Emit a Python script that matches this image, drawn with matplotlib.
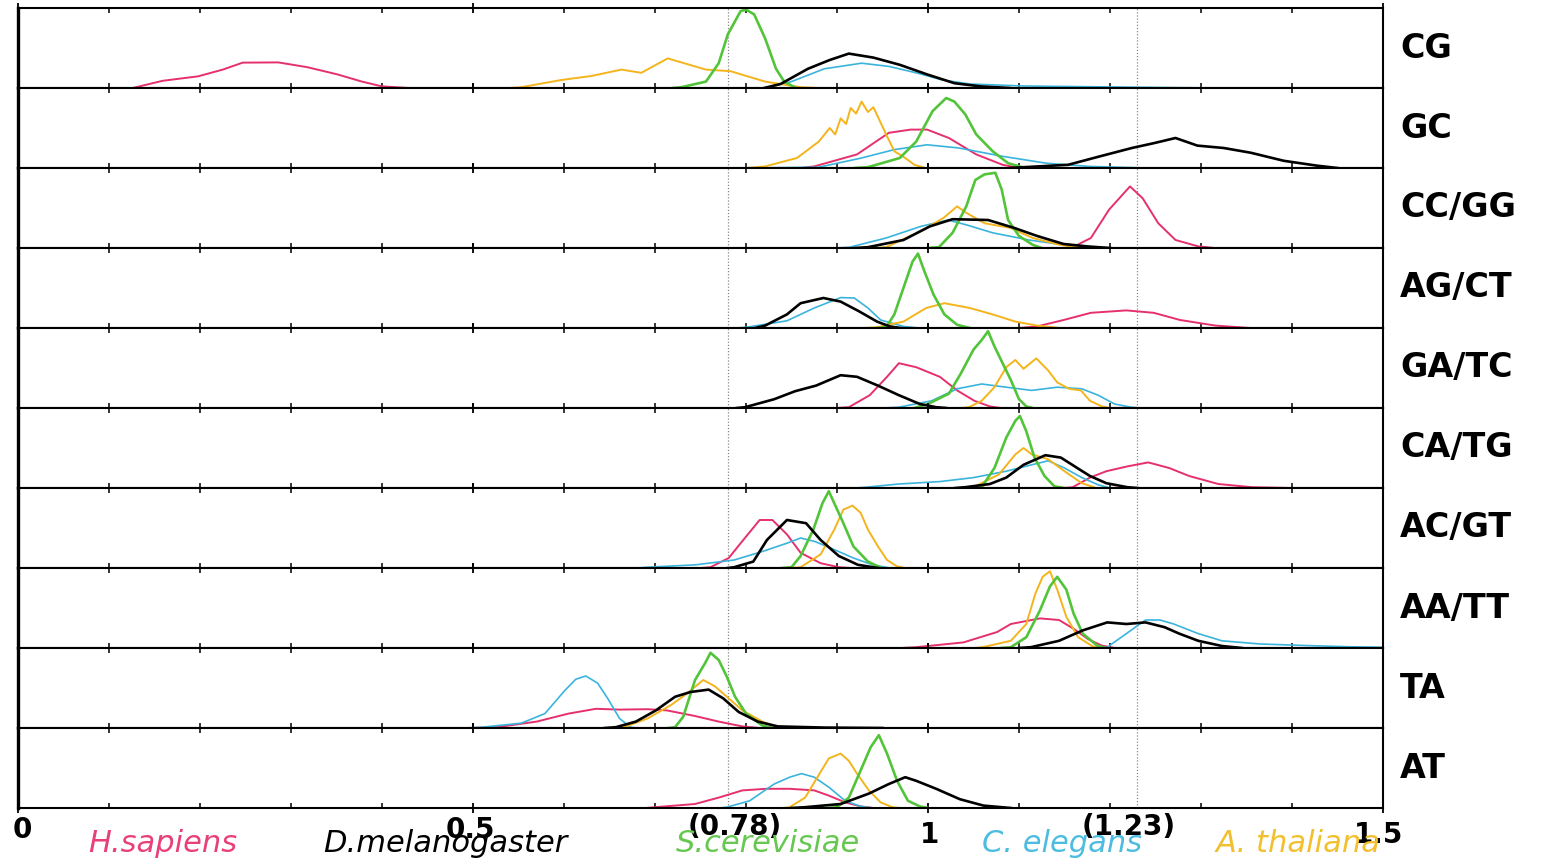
import matplotlib
matplotlib.use("Agg")
import matplotlib.pyplot as plt
from matplotlib.ticker import MultipleLocator
from matplotlib.transforms import blended_transform_factory

# species (legend order) and colours
keys = ["hs", "dm", "sc", "ce", "at"]
names = ["H.sapiens", "D.melanogaster", "S.cerevisiae", "C. elegans", "A. thaliana"]
colors = {"hs": "#e6306e", "dm": "#000000", "sc": "#52c43a", "ce": "#3ab4dc", "at": "#f4b41c"}
legend_colors = {"hs": "#e8407a", "dm": "#000000", "sc": "#66c850", "ce": "#4cbde0", "at": "#f2c02e"}

pairs = ["CG", "GC", "CC/GG", "AG/CT", "GA/TC", "CA/TG", "AC/GT", "AA/TT", "TA", "AT"]
marks = [0.78, 1.23]
tick_text = ["0", "0.5", "(0.78)", "1", "(1.23)", "1.5"]
tick_pos = [0.0, 0.5, 0.78, 1.0, 1.23, 1.5]

# curves: (ratio, relative height in panel)
p_cg = {
    "hs": [(0.11, 0), (0.126, 0.0), (0.159, 0.09), (0.198, 0.146), (0.225, 0.23), (0.247, 0.317),
           (0.286, 0.32), (0.318, 0.26), (0.351, 0.17), (0.378, 0.08), (0.40, 0.02), (0.43, 0)],
    "dm": [(0.82, 0), (0.838, 0.05), (0.868, 0.24), (0.892, 0.35), (0.913, 0.43), (0.94, 0.38),
           (0.969, 0.29), (0.999, 0.17), (1.029, 0.06), (1.058, 0.02), (1.09, 0)],
    "sc": [(0.72, 0), (0.729, 0.01), (0.756, 0.08), (0.77, 0.31), (0.78, 0.67), (0.794, 0.96),
           (0.80, 0.98), (0.809, 0.92), (0.821, 0.62), (0.833, 0.24), (0.842, 0.08), (0.855, 0)],
    "ce": [(0.82, 0), (0.85, 0.08), (0.886, 0.24), (0.927, 0.31), (0.957, 0.27), (0.987, 0.19),
           (1.016, 0.10), (1.046, 0.05), (1.105, 0.025), (1.224, 0.01), (1.32, 0)],
    "at": [(0.54, 0), (0.553, 0.01), (0.597, 0.10), (0.63, 0.15), (0.663, 0.23), (0.685, 0.19),
           (0.714, 0.37), (0.756, 0.23), (0.783, 0.21), (0.821, 0.08), (0.86, 0.01), (0.88, 0)],
}
p_gc = {
    "hs": [(0.86, 0), (0.875, 0.02), (0.922, 0.17), (0.957, 0.44), (0.981, 0.48), (0.999, 0.48),
           (1.023, 0.375), (1.053, 0.17), (1.082, 0.04), (1.10, 0)],
    "dm": [(1.09, 0), (1.105, 0.01), (1.154, 0.04), (1.189, 0.146), (1.224, 0.25), (1.248, 0.31),
           (1.272, 0.375), (1.296, 0.28), (1.325, 0.25), (1.355, 0.19), (1.391, 0.09), (1.427, 0.03), (1.45, 0)],
    "sc": [(0.92, 0), (0.934, 0.01), (0.969, 0.125), (0.987, 0.33), (1.005, 0.71), (1.02, 0.875),
           (1.029, 0.83), (1.041, 0.67), (1.053, 0.42), (1.071, 0.21), (1.088, 0.06), (1.107, 0)],
    "ce": [(0.80, 0), (0.88, 0.01), (0.927, 0.125), (0.963, 0.23), (0.999, 0.29), (1.034, 0.25),
           (1.082, 0.146), (1.13, 0.06), (1.177, 0.02), (1.24, 0)],
    "at": [(0.80, 0), (0.821, 0.02), (0.856, 0.125), (0.88, 0.33), (0.892, 0.5), (0.898, 0.42),
           (0.904, 0.62), (0.91, 0.55), (0.915, 0.75), (0.921, 0.68), (0.927, 0.83), (0.934, 0.70),
           (0.94, 0.76), (0.954, 0.42), (0.963, 0.21), (0.975, 0.125), (0.985, 0.04), (0.997, 0)],
}
p_ccgg = {
    "hs": [(1.15, 0), (1.159, 0.01), (1.179, 0.125), (1.199, 0.48), (1.222, 0.77), (1.236, 0.62),
           (1.253, 0.31), (1.272, 0.10), (1.297, 0.02), (1.315, 0)],
    "dm": [(0.92, 0), (0.934, 0.01), (0.973, 0.10), (1.002, 0.27), (1.027, 0.36), (1.066, 0.35),
           (1.095, 0.25), (1.12, 0.15), (1.149, 0.05), (1.175, 0.02), (1.2, 0)],
    "sc": [(1.0, 0), (1.012, 0.01), (1.027, 0.19), (1.042, 0.52), (1.052, 0.85), (1.062, 0.92),
           (1.074, 0.94), (1.081, 0.73), (1.088, 0.35), (1.10, 0.15), (1.115, 0.04), (1.125, 0)],
    "ce": [(0.90, 0), (0.914, 0.01), (0.954, 0.125), (0.992, 0.27), (1.022, 0.35), (1.042, 0.29),
           (1.071, 0.19), (1.111, 0.10), (1.155, 0.03), (1.2, 0)],
    "at": [(0.94, 0), (0.954, 0.01), (0.992, 0.21), (1.017, 0.375), (1.032, 0.52), (1.042, 0.44),
           (1.062, 0.31), (1.091, 0.25), (1.115, 0.125), (1.145, 0.04), (1.17, 0)],
}
p_agct = {
    "hs": [(1.10, 0), (1.12, 0.02), (1.149, 0.10), (1.179, 0.19), (1.218, 0.22), (1.248, 0.19),
           (1.277, 0.10), (1.316, 0.03), (1.354, 0)],
    "dm": [(0.81, 0), (0.821, 0.03), (0.845, 0.17), (0.86, 0.31), (0.885, 0.375), (0.904, 0.33),
           (0.924, 0.21), (0.944, 0.08), (0.958, 0.02), (0.97, 0)],
    "sc": [(0.945, 0), (0.954, 0.01), (0.963, 0.17), (0.973, 0.5), (0.983, 0.83), (0.989, 0.93),
           (0.996, 0.71), (1.006, 0.42), (1.018, 0.17), (1.032, 0.04), (1.046, 0)],
    "ce": [(0.79, 0), (0.801, 0.01), (0.845, 0.09), (0.875, 0.25), (0.904, 0.38), (0.919, 0.375),
           (0.934, 0.25), (0.948, 0.10), (0.973, 0.02), (0.99, 0)],
    "at": [(0.93, 0), (0.944, 0.01), (0.973, 0.08), (0.998, 0.25), (1.018, 0.31), (1.046, 0.25),
           (1.071, 0.17), (1.096, 0.08), (1.12, 0.03), (1.145, 0)],
}
p_gatc = {
    "hs": [(0.90, 0), (0.913, 0.01), (0.936, 0.16), (0.955, 0.39), (0.968, 0.56), (0.987, 0.51),
           (1.013, 0.39), (1.032, 0.22), (1.051, 0.09), (1.068, 0.02), (1.08, 0)],
    "dm": [(0.79, 0), (0.799, 0.01), (0.831, 0.11), (0.854, 0.21), (0.877, 0.28), (0.904, 0.41),
           (0.922, 0.39), (0.945, 0.28), (0.968, 0.16), (0.991, 0.05), (1.009, 0.01), (1.02, 0)],
    "sc": [(0.985, 0), (1.0, 0.05), (1.023, 0.18), (1.036, 0.43), (1.05, 0.73), (1.059, 0.85),
           (1.066, 0.96), (1.073, 0.77), (1.082, 0.56), (1.091, 0.35), (1.10, 0.11), (1.108, 0.02), (1.115, 0)],
    "ce": [(0.95, 0), (0.968, 0.01), (1.004, 0.09), (1.032, 0.24), (1.059, 0.30), (1.086, 0.26),
           (1.114, 0.22), (1.142, 0.26), (1.169, 0.24), (1.187, 0.16), (1.205, 0.05), (1.223, 0.01), (1.235, 0)],
    "at": [(1.035, 0), (1.045, 0.01), (1.059, 0.09), (1.073, 0.26), (1.086, 0.51), (1.096, 0.60),
           (1.105, 0.49), (1.119, 0.62), (1.132, 0.47), (1.142, 0.32), (1.155, 0.24), (1.168, 0.22),
           (1.178, 0.09), (1.191, 0.02), (1.2, 0)],
}
p_catg = {
    "hs": [(1.15, 0), (1.159, 0.01), (1.178, 0.13), (1.196, 0.21), (1.219, 0.27), (1.242, 0.32),
           (1.265, 0.25), (1.287, 0.15), (1.319, 0.05), (1.356, 0.01), (1.40, 0)],
    "dm": [(1.03, 0), (1.041, 0.01), (1.068, 0.05), (1.086, 0.13), (1.105, 0.29), (1.129, 0.41),
           (1.146, 0.38), (1.164, 0.25), (1.178, 0.15), (1.196, 0.06), (1.219, 0.01), (1.23, 0)],
    "sc": [(1.05, 0), (1.059, 0.01), (1.073, 0.25), (1.086, 0.63), (1.096, 0.84), (1.101, 0.9),
           (1.108, 0.71), (1.117, 0.38), (1.128, 0.15), (1.139, 0.02), (1.15, 0)],
    "ce": [(0.92, 0), (0.932, 0.01), (0.968, 0.05), (1.013, 0.08), (1.05, 0.13), (1.086, 0.21),
           (1.114, 0.29), (1.132, 0.34), (1.15, 0.25), (1.169, 0.13), (1.187, 0.04), (1.20, 0)],
    "at": [(1.04, 0), (1.05, 0.01), (1.078, 0.17), (1.096, 0.42), (1.105, 0.5), (1.114, 0.42),
           (1.132, 0.36), (1.15, 0.21), (1.169, 0.06), (1.185, 0)],
}
p_acgt = {
    "hs": [(0.75, 0), (0.761, 0.01), (0.781, 0.125), (0.797, 0.35), (0.815, 0.6), (0.829, 0.6),
           (0.845, 0.42), (0.86, 0.19), (0.882, 0.06), (0.902, 0.01), (0.915, 0)],
    "dm": [(0.78, 0), (0.787, 0.01), (0.808, 0.08), (0.823, 0.35), (0.845, 0.6), (0.866, 0.56),
           (0.882, 0.35), (0.902, 0.15), (0.923, 0.04), (0.945, 0)],
    "sc": [(0.84, 0), (0.85, 0.01), (0.86, 0.15), (0.874, 0.48), (0.884, 0.81), (0.891, 0.96),
           (0.897, 0.81), (0.907, 0.56), (0.918, 0.27), (0.934, 0.08), (0.949, 0)],
    "ce": [(0.68, 0), (0.692, 0.01), (0.745, 0.04), (0.787, 0.10), (0.819, 0.21), (0.845, 0.31),
           (0.86, 0.375), (0.876, 0.33), (0.897, 0.23), (0.918, 0.125), (0.939, 0.04), (0.958, 0)],
    "at": [(0.85, 0), (0.86, 0.01), (0.882, 0.17), (0.897, 0.48), (0.907, 0.73), (0.917, 0.78),
           (0.926, 0.69), (0.934, 0.48), (0.945, 0.27), (0.955, 0.10), (0.966, 0.02), (0.975, 0)],
}
p_aatt = {
    "hs": [(0.97, 0), (0.987, 0.01), (1.039, 0.07), (1.076, 0.2), (1.091, 0.3), (1.123, 0.37),
           (1.144, 0.35), (1.16, 0.24), (1.176, 0.11), (1.191, 0.03), (1.205, 0)],
    "dm": [(1.10, 0), (1.113, 0.01), (1.144, 0.09), (1.17, 0.22), (1.197, 0.32), (1.218, 0.30),
           (1.239, 0.32), (1.26, 0.26), (1.276, 0.18), (1.297, 0.09), (1.323, 0.025), (1.345, 0)],
    "sc": [(1.08, 0), (1.091, 0.01), (1.108, 0.135), (1.123, 0.47), (1.134, 0.77), (1.142, 0.89),
           (1.152, 0.73), (1.16, 0.43), (1.17, 0.18), (1.186, 0.03), (1.195, 0)],
    "ce": [(1.185, 0), (1.197, 0.01), (1.218, 0.18), (1.239, 0.35), (1.255, 0.35), (1.27, 0.30),
           (1.297, 0.18), (1.323, 0.09), (1.365, 0.05), (1.418, 0.03), (1.464, 0.015), (1.5, 0.01)],
    "at": [(1.05, 0), (1.06, 0.01), (1.091, 0.09), (1.108, 0.3), (1.118, 0.68), (1.126, 0.89),
           (1.134, 0.96), (1.142, 0.73), (1.152, 0.39), (1.165, 0.135), (1.181, 0.02), (1.19, 0)],
}
p_ta = {
    "hs": [(0.50, 0), (0.526, 0.01), (0.57, 0.08), (0.605, 0.18), (0.635, 0.24), (0.661, 0.23),
           (0.692, 0.235), (0.713, 0.22), (0.744, 0.15), (0.77, 0.08), (0.796, 0.02), (0.815, 0)],
    "dm": [(0.645, 0), (0.657, 0.01), (0.679, 0.08), (0.701, 0.22), (0.722, 0.39), (0.739, 0.45),
           (0.759, 0.48), (0.775, 0.37), (0.792, 0.2), (0.813, 0.08), (0.835, 0.02), (0.887, 0.005), (0.95, 0)],
    "sc": [(0.715, 0), (0.722, 0.01), (0.731, 0.14), (0.744, 0.6), (0.755, 0.81), (0.761, 0.94),
           (0.77, 0.85), (0.779, 0.64), (0.788, 0.39), (0.80, 0.18), (0.818, 0.03), (0.83, 0)],
    "ce": [(0.49, 0), (0.51, 0.01), (0.553, 0.06), (0.579, 0.18), (0.601, 0.47), (0.613, 0.61),
           (0.624, 0.65), (0.637, 0.56), (0.648, 0.37), (0.661, 0.12), (0.673, 0.01), (0.68, 0)],
    "at": [(0.655, 0), (0.666, 0.01), (0.692, 0.12), (0.718, 0.29), (0.735, 0.43), (0.753, 0.6),
           (0.766, 0.52), (0.779, 0.39), (0.796, 0.22), (0.818, 0.08), (0.831, 0.02), (0.845, 0)],
}
p_at = {
    "hs": [(0.69, 0), (0.70, 0.01), (0.744, 0.05), (0.77, 0.13), (0.796, 0.22), (0.822, 0.24),
           (0.848, 0.24), (0.875, 0.22), (0.891, 0.155), (0.909, 0.07), (0.926, 0.02), (0.94, 0)],
    "dm": [(0.85, 0), (0.865, 0.01), (0.904, 0.05), (0.935, 0.18), (0.957, 0.3), (0.975, 0.385),
           (0.987, 0.34), (1.009, 0.24), (1.035, 0.11), (1.061, 0.03), (1.091, 0)],
    "sc": [(0.89, 0), (0.90, 0.01), (0.913, 0.13), (0.926, 0.47), (0.937, 0.76), (0.946, 0.91),
           (0.955, 0.68), (0.966, 0.34), (0.978, 0.09), (0.991, 0.02), (1.0, 0)],
    "ce": [(0.77, 0), (0.779, 0.01), (0.804, 0.09), (0.831, 0.3), (0.848, 0.385), (0.861, 0.43),
           (0.875, 0.385), (0.891, 0.26), (0.909, 0.09), (0.926, 0.02), (0.94, 0)],
    "at": [(0.84, 0), (0.848, 0.01), (0.865, 0.13), (0.883, 0.47), (0.891, 0.62), (0.904, 0.68),
           (0.913, 0.59), (0.922, 0.43), (0.935, 0.22), (0.948, 0.07), (0.961, 0.01), (0.97, 0)],
}
panels = [p_cg, p_gc, p_ccgg, p_agct, p_gatc, p_catg, p_acgt, p_aatt, p_ta, p_at]

# drawing order and line widths
draw_order = ["hs", "ce", "at", "sc", "dm"]
widths = {"hs": 1.4, "dm": 1.9, "sc": 1.9, "ce": 1.2, "at": 1.4}

W, H = 1548, 867
fig = plt.figure(figsize=(W / 100, H / 100), dpi=100)
axes = fig.subplots(len(pairs), 1, sharex=True, gridspec_kw=dict(hspace=0))
fig.subplots_adjust(left=18 / W, right=1383 / W, top=1 - 8 / H, bottom=1 - 808 / H)

for ax, label, panel in zip(axes, pairs, panels):
    for k in draw_order:
        xs = [p[0] for p in panel[k]]
        ys = [p[1] for p in panel[k]]
        ax.plot(xs, ys, color=colors[k], lw=widths[k], solid_joinstyle="round")
    for m in marks:
        ax.axvline(m, color="#8a8a8a", lw=0.9, ls=(0, (1, 1.5)), zorder=0)
    ax.set_xlim(0, 1.5)
    ax.set_ylim(0, 1.0)
    ax.set_yticks([])
    ax.xaxis.set_major_locator(MultipleLocator(0.5))
    ax.xaxis.set_minor_locator(MultipleLocator(0.1))
    ax.tick_params(axis="x", which="major", direction="inout", length=7, width=1.3,
                   top=True, bottom=True, labelbottom=False)
    ax.tick_params(axis="x", which="minor", direction="in", length=3.5, width=1.1,
                   top=True, bottom=True)
    for side, sp in ax.spines.items():
        sp.set_linewidth(1.5)
        sp.set_color("black")
    ax.spines["left"].set_linewidth(2.4)
    ax.text(1.0 + 17 / 1365, 0.5, label, transform=ax.transAxes, ha="left", va="center",
            fontsize=24, fontweight="bold", family="DejaVu Sans")

# tick labels under the bottom panel (they overlap the species names, as in the original)
bt = blended_transform_factory(axes[-1].transData, fig.transFigure)
label_y = [838, 838, 835, 843, 835, 843]
label_dx = [0.005, -0.003, 0.008, 0.002, -0.01, -0.005]
for t, x, y, dx in zip(tick_text, tick_pos, label_y, label_dx):
    axes[-1].text(x + dx, 1 - y / H, t, transform=bt, ha="center", va="baseline",
                  fontsize=20, fontweight="bold", family="DejaVu Sans", clip_on=False)

# coloured species names
legend_x = [163, 445, 768, 1062, 1298]
for k, name, x in zip(keys, names, legend_x):
    fig.text(x / W, 1 - 852 / H, name, ha="center", va="baseline", color=legend_colors[k],
             fontsize=22, style="italic", family="DejaVu Sans")

fig.savefig("out.png", dpi=100)
